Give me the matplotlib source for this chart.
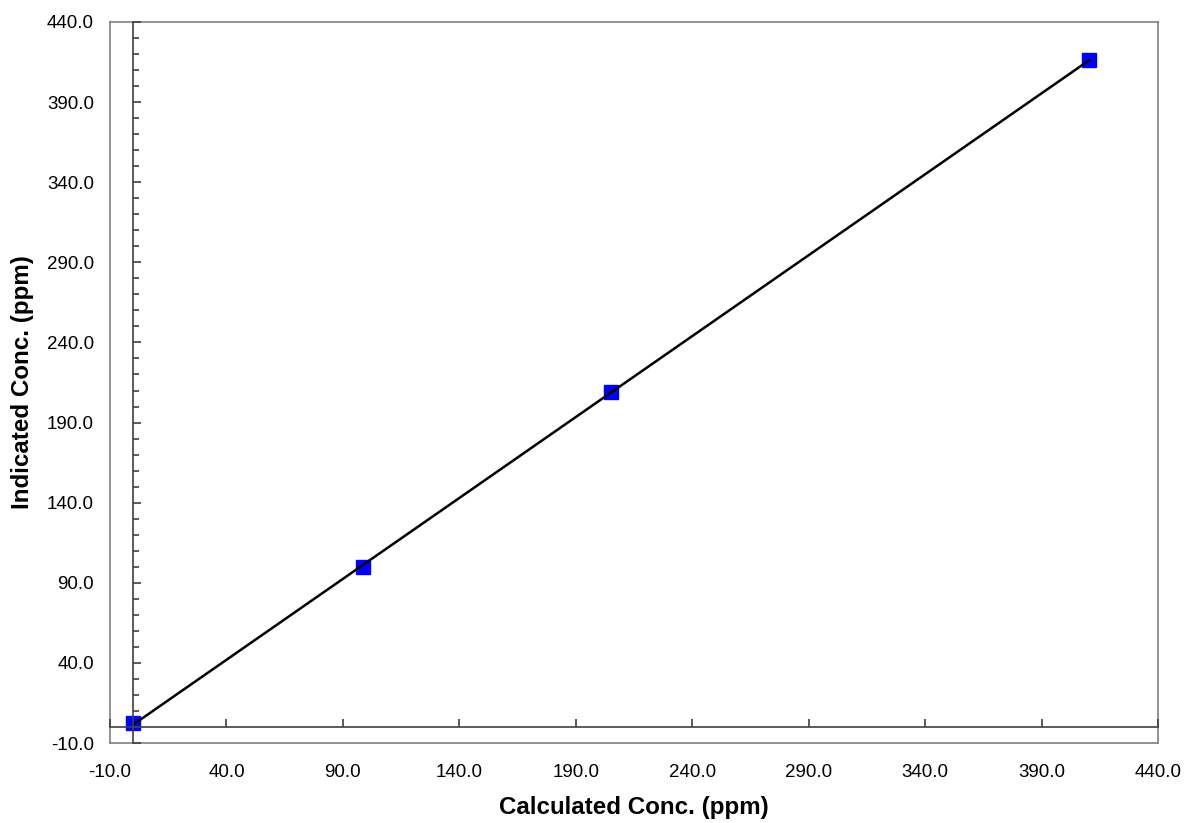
import numpy as np
import matplotlib
matplotlib.use('Agg')
import matplotlib.pyplot as plt
from matplotlib.ticker import MultipleLocator, FormatStrFormatter

plt.rcParams['font.family'] = ['Liberation Sans', 'DejaVu Sans']

# calibration points
calculated = [0.0, 98.8, 205.1, 410.5]
indicated = [2.3, 100.0, 209.1, 416.3]
ticks = [-10, 40, 90, 140, 190, 240, 290, 340, 390, 440]

fig = plt.figure(figsize=(11.85, 8.23), dpi=100)
ax = fig.add_axes([110 / 1185, 80 / 823, 1048 / 1185, 721 / 823])

slope, icpt = np.polyfit(calculated, indicated, 1)
xs = np.array([min(calculated), max(calculated)])
ax.plot(calculated, indicated, 's', color='#0000ff', markersize=9.5, zorder=3)
ax.plot(xs, slope * xs + icpt, color='black', linewidth=1.8, zorder=4)

ax.set_xlim(-10, 440)
ax.set_ylim(-10, 440)
ax.set_xticks(ticks)
ax.set_yticks(ticks)
ax.xaxis.set_major_formatter(FormatStrFormatter('%.1f'))
ax.yaxis.set_major_formatter(FormatStrFormatter('%.1f'))
ax.tick_params(which='both', length=0, labelsize=13.5)
ax.tick_params(axis='y', pad=11.5)
ax.tick_params(axis='x', pad=15)
for s in ax.spines.values():
    s.set_color('#808080')
    s.set_linewidth(1.2)

ax.set_xlabel('Calculated Conc. (ppm)', fontsize=17.4, fontweight='bold', labelpad=11)
ax.set_ylabel('Indicated Conc. (ppm)', fontsize=17.4, fontweight='bold', labelpad=9)

# axis lines through zero, with their own ticks
ax2 = fig.add_axes(ax.get_position(), sharex=ax, sharey=ax)
ax2.patch.set_visible(False)
ax2.spines['top'].set_visible(False)
ax2.spines['right'].set_visible(False)
ax2.spines['left'].set_position(('data', 0))
ax2.spines['bottom'].set_position(('data', 0))
for s in ('left', 'bottom'):
    ax2.spines[s].set_color('#404040')
    ax2.spines[s].set_linewidth(1.2)
ax2.yaxis.set_minor_locator(MultipleLocator(10))
ax2.tick_params(which='both', direction='in', labelleft=False, labelbottom=False,
                color='#404040', width=1.2)
ax2.tick_params(which='major', length=6)
ax2.tick_params(which='minor', length=4)

fig.savefig('out.png', dpi=100)
